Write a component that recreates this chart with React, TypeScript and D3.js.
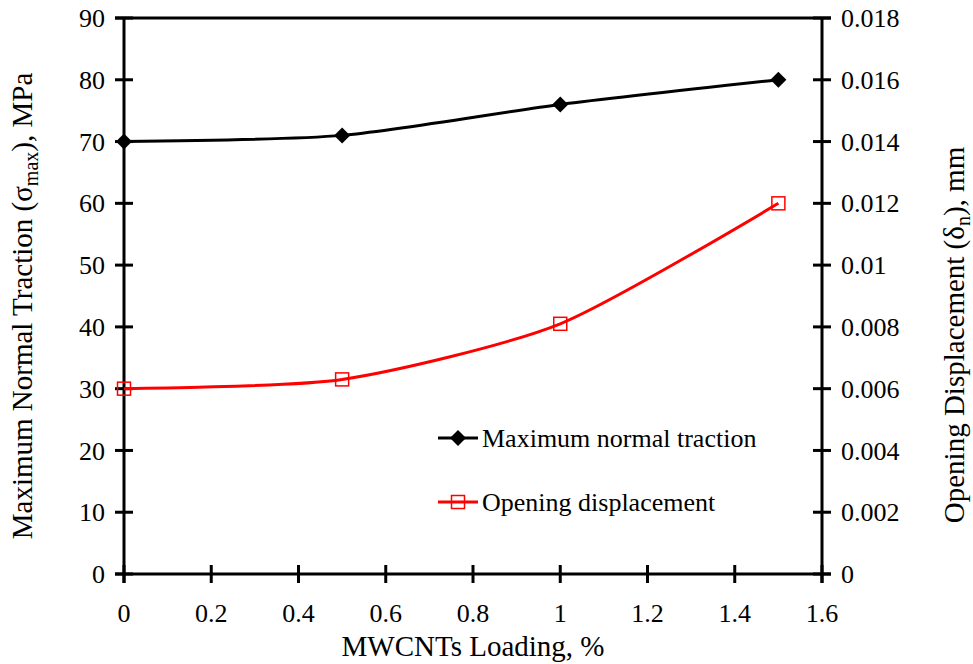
import React from "react";
import * as d3 from "d3";

const loading = [0, 0.5, 1, 1.5];
const traction = [70, 71, 76, 80];
const displacement = [0.006, 0.0063, 0.0081, 0.012];
const xTicks = [0, 0.2, 0.4, 0.6, 0.8, 1, 1.2, 1.4, 1.6];
const leftTicks = [0, 10, 20, 30, 40, 50, 60, 70, 80, 90];
const rightTicks = [0, 0.002, 0.004, 0.006, 0.008, 0.01, 0.012, 0.014, 0.016, 0.018];

const W = 973, H = 664;
const L = 124, R = 822, T = 18, B = 574;
const FONT = "'Liberation Serif', 'Times New Roman', serif";
const FS = 26;
const TFS = 29;

export default function App() {
  const x = d3.scaleLinear().domain([0, 1.6]).range([L, R]);
  const yL = d3.scaleLinear().domain([0, 90]).range([B, T]);
  const yR = d3.scaleLinear().domain([0, 0.018]).range([B, T]);
  const curve = d3.curveCardinal.tension(0.3);
  const lineT = d3.line<number>().x((_, i) => x(loading[i])).y(d => yL(d)).curve(curve);
  const lineD = d3.line<number>().x((_, i) => x(loading[i])).y(d => yR(d)).curve(curve);
  const tk = 9;
  const diamond = (cx: number, cy: number, s: number) =>
    `M${cx},${cy - s}L${cx + s},${cy}L${cx},${cy + s}L${cx - s},${cy}Z`;

  return (
    <svg width={W} height={H} style={{ position: "absolute", left: 0, top: 0, background: "#fff" }}
      fontFamily={FONT} fontSize={FS}>
      <rect x={0} y={0} width={W} height={H} fill="#fff" />
      {/* frame */}
      <line x1={L - tk} x2={R + tk} y1={T} y2={T} stroke="#000" strokeWidth={3} />
      <line x1={L - tk} x2={R + tk} y1={B} y2={B} stroke="#000" strokeWidth={3} />
      <line x1={L} x2={L} y1={T} y2={B + tk} stroke="#000" strokeWidth={3} />
      <line x1={R} x2={R} y1={T} y2={B + tk} stroke="#000" strokeWidth={3} />
      {/* left ticks */}
      {leftTicks.map(v => (
        <g key={"l" + v}>
          <line x1={L - tk} x2={L + tk} y1={yL(v)} y2={yL(v)} stroke="#000" strokeWidth={3} />
          <text x={L - 19} y={yL(v)} dy="0.35em" textAnchor="end">{v}</text>
        </g>
      ))}
      {rightTicks.map(v => (
        <g key={"r" + v}>
          <line x1={R - tk} x2={R + tk} y1={yR(v)} y2={yR(v)} stroke="#000" strokeWidth={3} />
          <text x={R + 19} y={yR(v)} dy="0.35em" textAnchor="start">{d3.format("~g")(v)}</text>
        </g>
      ))}
      {xTicks.map(v => (
        <g key={"x" + v}>
          <line x1={x(v)} x2={x(v)} y1={B - tk} y2={B + tk} stroke="#000" strokeWidth={3} />
          <text x={x(v)} y={B + 48} textAnchor="middle">{d3.format("~g")(v)}</text>
        </g>
      ))}
      {/* lines */}
      <path d={lineT(traction) || ""} fill="none" stroke="#000" strokeWidth={3} />
      {traction.map((v, i) => (
        <path key={"d" + i} d={diamond(x(loading[i]), yL(v), 8)} fill="#000" />
      ))}
      <path d={lineD(displacement) || ""} fill="none" stroke="#ff0000" strokeWidth={3} />
      {displacement.map((v, i) => (
        <rect key={"s" + i} x={x(loading[i]) - 6.5} y={yR(v) - 6.5} width={13} height={13}
          fill="none" stroke="#ff0000" strokeWidth={1.5} />
      ))}
      {/* legend */}
      <line x1={438} x2={478} y1={438} y2={438} stroke="#000" strokeWidth={3} />
      <path d={diamond(458, 438, 8)} fill="#000" />
      <text x={482} y={447}>Maximum normal traction</text>
      <line x1={438} x2={478} y1={502} y2={502} stroke="#ff0000" strokeWidth={3} />
      <rect x={451.5} y={495.5} width={13} height={13} fill="none" stroke="#ff0000" strokeWidth={1.5} />
      <text x={482} y={511}>Opening displacement</text>
      {/* axis titles */}
      <text x={(L + R) / 2} y={656} textAnchor="middle" fontSize={TFS}>MWCNTs Loading, %</text>
      <text transform={`translate(32, 306) rotate(-90)`} textAnchor="middle" fontSize={TFS}>
        Maximum Normal Traction (σ<tspan fontSize={20} dy={6}>max</tspan><tspan dy={-6}>), MPa</tspan>
      </text>
      <text transform={`translate(964, 335) rotate(-90)`} textAnchor="middle" fontSize={TFS}>
        Opening Displacement (δ<tspan fontSize={20} dy={6}>n</tspan><tspan dy={-6}>), mm</tspan>
      </text>
    </svg>
  );
}
